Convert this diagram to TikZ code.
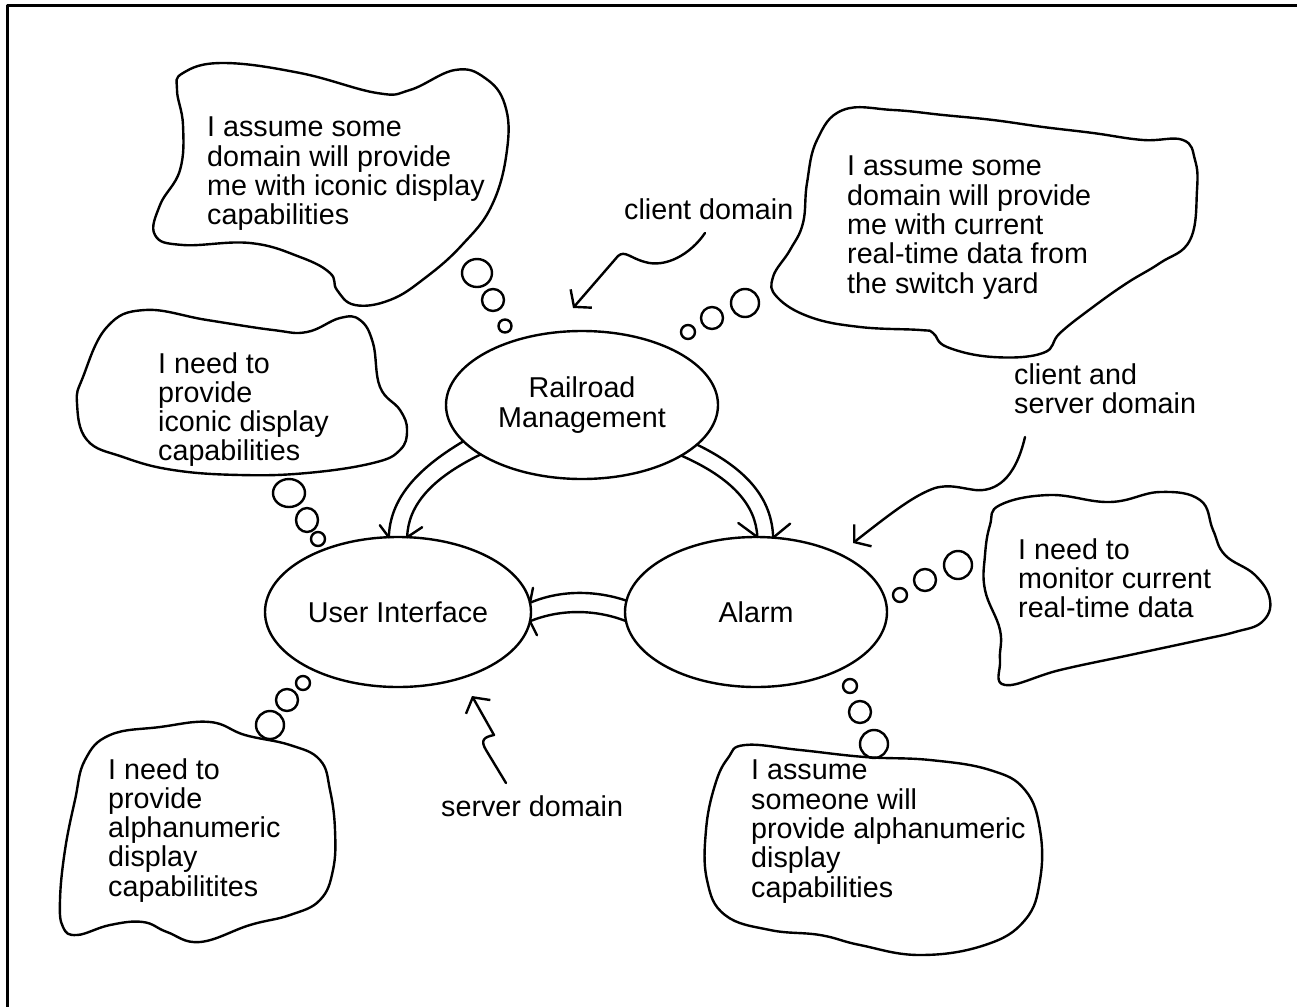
\documentclass[tikz,border=0pt]{standalone}
\usepackage{fontspec}
\setmainfont{Liberation Sans}
\usetikzlibrary{arrows.meta,shapes.geometric}
\begin{document}
\begin{tikzpicture}[x=1pt,y=-1pt, line width=2.4pt, line join=round, line cap=round,
  every node/.style={font=\fontsize{28.7}{29.3}\selectfont},
  dom/.style={ellipse, draw, inner sep=0pt, outer sep=0pt, align=center},
  txt/.style={anchor=north west, inner sep=0pt, align=left},
  cloudline/.style={smooth cycle, tension=0.7},
  barbarrow/.style={-{Straight Barb[length=11pt,width=28pt]}}
]
\useasboundingbox (0,0) rectangle (1297,1007);
% frame
\draw[line width=3pt, line cap=butt] (1297,5) -- (7,5) -- (7,1007);

% domains
\node[dom, minimum width=272pt, minimum height=148pt] (rm) at (582,405) {Railroad\\Management};
\node[dom, minimum width=266pt, minimum height=150pt] (ui) at (398,612) {User Interface};
\node[dom, minimum width=262pt, minimum height=150pt] (al) at (756,612) {Alarm};

% double arrows RM -> UI
\draw (rm.197.7) .. controls (415,470) and (390,500) .. (ui.97.6);
\draw (rm.206.6) .. controls (432,478) and (408,505) .. (ui.83);
\draw (ui.97.6) -- ++(-9,-12);
\draw (ui.83) -- ++(15,-10);
% RM -> Alarm
\draw (rm.341.7) .. controls (749,470) and (772,500) .. (al.77.2);
\draw (rm.333.4) .. controls (732,478) and (756,505) .. (al.89.2);
\draw (al.77.2) -- ++(17,-14);
\draw (al.89.2) -- ++(-19,-14);
% Alarm -> UI
\draw (al.175.6) .. controls (595,590) and (560,590) .. (ui.4.3);
\draw (al.184) .. controls (595,609) and (560,609) .. (ui.356.1);
\draw (ui.4.3) -- ++(3,-15);
\draw (ui.356.1) -- ++(7,14);

% cloud 1 (top left)
\draw plot[cloudline] coordinates {(183,73) (223,63) (300,73) (377,93) (410,90) (455,70) (485,78) (505,105) (507,150) (492,205) (462,245) (425,278) (390,300) (355,305) (337,290) (330,273) (300,257) (250,243) (183,245) (155,235) (160,205) (180,170) (183,125) (177,90)};
\node[txt] (t1) at (206,116) {I assume some\\domain will provide\\me with iconic display\\capabilities};
\draw (477,273) ellipse [x radius=15, y radius=14];
\draw (493,300) ellipse [x radius=11, y radius=11];
\draw (505,326) ellipse [x radius=6.5, y radius=6.5];

% cloud 2 (top right)
\draw plot[cloudline] coordinates {(817,140) (843,110) (893,110) (943,115) (993,120) (1043,127) (1093,133) (1143,140) (1183,140) (1195,160) (1197,190) (1190,240) (1160,263) (1127,283) (1093,307) (1060,333) (1043,353) (993,357) (947,347) (933,333) (920,330) (860,327) (810,317) (777,297) (773,277) (790,250) (803,223) (807,183)};
\node[txt] (t2) at (846,155) {I assume some\\domain will provide\\me with current\\real-time data from\\the switch yard};
\draw (688,332) ellipse [x radius=7, y radius=7];
\draw (712,318) ellipse [x radius=11, y radius=11];
\draw (745,303) ellipse [x radius=14, y radius=14];

% cloud 3 (middle left)
\draw plot[cloudline] coordinates {(107,327) (145,310) (207,320) (273,330) (307,332) (340,318) (360,320) (373,343) (380,387) (400,410) (407,430) (400,450) (373,463) (307,473) (240,475) (173,470) (123,457) (87,440) (77,403) (83,377)};
\node[txt] (t3) at (157,351) {I need to\\provide\\iconic display\\capabilities};
\draw (289,493) ellipse [x radius=16, y radius=14];
\draw (307,520) ellipse [x radius=11, y radius=12];
\draw (318,539) ellipse [x radius=7, y radius=7];

% cloud 4 (bottom left)
\draw plot[cloudline] coordinates {(160,727) (210,722) (245,735) (290,745) (320,760) (330,790) (335,830) (333,870) (320,900) (290,915) (250,925) (200,942) (167,932) (143,922) (110,925) (77,935) (63,927) (60,900) (65,850) (75,800) (85,760) (110,735)};
\node[txt] (t4) at (107,757) {I need to\\provide\\alphanumeric\\display\\capabilitites};
\draw (303,683) ellipse [x radius=7, y radius=7];
\draw (287,700) ellipse [x radius=11, y radius=11];
\draw (270,725) ellipse [x radius=14, y radius=14];

% cloud 5 (right middle)
\draw plot[cloudline] coordinates {(1000,505) (1050,495) (1110,502) (1160,492) (1200,500) (1213,530) (1225,555) (1255,575) (1270,600) (1262,622) (1235,632) (1200,640) (1130,655) (1060,670) (1005,685) (1000,660) (1000,630) (985,590) (985,555) (990,525)};
\node[txt] (t5) at (1017,537) {I need to\\monitor current\\real-time data};
\draw (900,595) ellipse [x radius=7, y radius=7];
\draw (925,580) ellipse [x radius=11, y radius=11];
\draw (958,565) ellipse [x radius=14, y radius=14];

% cloud 6 (bottom right)
\draw plot[cloudline] coordinates {(745,745) (800,750) (865,757) (930,760) (990,770) (1025,790) (1040,830) (1040,880) (1025,920) (985,945) (920,955) (860,945) (820,935) (770,930) (725,915) (707,880) (706,830) (715,785) (728,758)};
\node[txt] (t6) at (750,759) {I assume\\someone will\\provide alphanumeric\\display\\capabilities};
\draw (850,686) ellipse [x radius=7, y radius=7];
\draw (860,712) ellipse [x radius=11, y radius=11];
\draw (874,744) ellipse [x radius=14, y radius=14];

% labels
\node[txt] (lc) at (623,197) {client domain};
\node[txt] (lcs) at (1013,362) {client and\\server domain};
\node[txt] (ls) at (440,794) {server domain};

% squiggly arrows
\coordinate (c1s) at (705,233);
\coordinate (c1e) at (573,308);
\draw[barbarrow] (c1s) .. controls (690,255) and (665,268) .. (645,262) .. controls (630,258) and (625,250) .. (618,256) -- (c1e);
\coordinate (c2s) at (1025,437);
\coordinate (c2e) at (853,543);
\draw[barbarrow] (c2s) .. controls (1015,480) and (995,492) .. (975,490) .. controls (960,488) and (950,484) .. (935,488) .. controls (915,495) and (895,510) .. (c2e);
\coordinate (c3s) at (506,783);
\coordinate (c3e) at (472,696);
\draw[barbarrow] (c3s) -- (486,750) .. controls (480,740) and (484,737) .. (494,735) -- (c3e);
\end{tikzpicture}
\end{document}
